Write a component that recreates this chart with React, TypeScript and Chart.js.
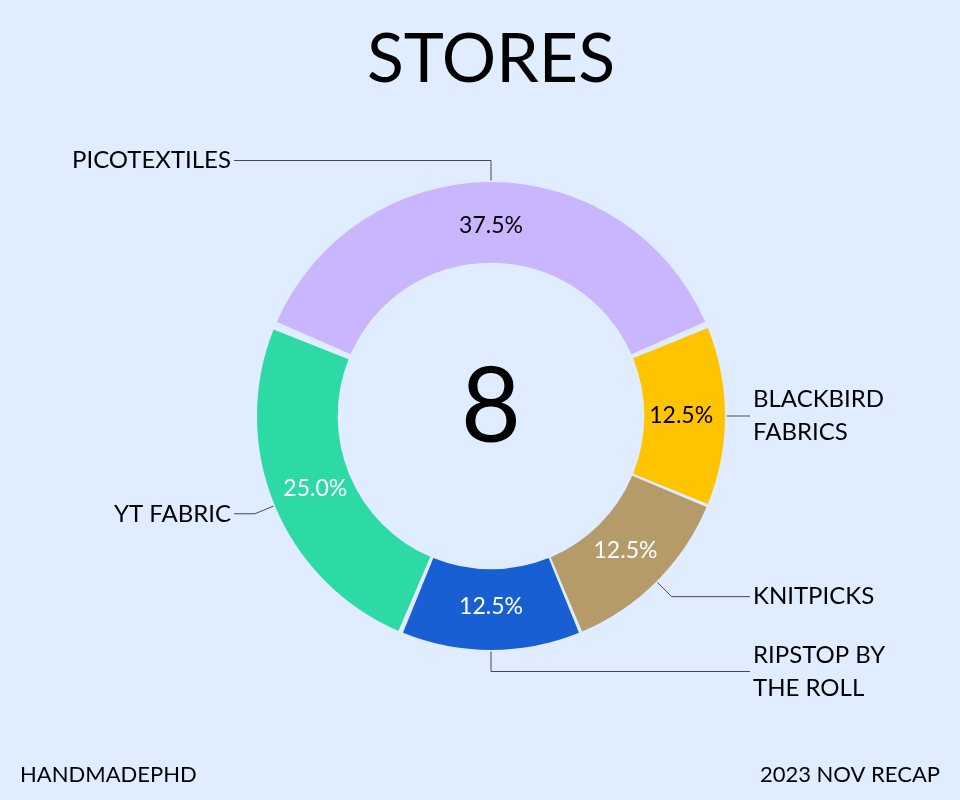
import React, { useEffect, useRef } from "react";
import { Chart, registerables } from "chart.js";

Chart.register(...registerables);

const TITLE = "STORES";
const CENTER_TEXT = "8";
const FOOTER_LEFT = "HANDMADEPHD";
const FOOTER_RIGHT = "2023 NOV RECAP";

const storeLabels: string[][] = [
  ["PICOTEXTILES"],
  ["BLACKBIRD", "FABRICS"],
  ["KNITPICKS"],
  ["RIPSTOP BY", "THE ROLL"],
  ["YT FABRIC"],
];
const storeCounts = [3, 1, 1, 1, 2];
const sliceColors = ["#c9b6fe", "#ffc400", "#b59b6a", "#175fd2", "#2dd9a5"];
const pctTextColors = ["#000000", "#000000", "#ffffff", "#ffffff", "#ffffff"];

const BG = "#e0ecff";
const FONT = "Lato, 'Noto Sans', sans-serif";

const decorPlugin = {
  id: "decor",
  beforeDraw(chart: any) {
    const { ctx, width, height } = chart;
    ctx.save();
    ctx.fillStyle = BG;
    ctx.fillRect(0, 0, width, height);
    ctx.restore();
  },
  afterDraw(chart: any) {
    const { ctx } = chart;
    const meta = chart.getDatasetMeta(0);
    const total = storeCounts.reduce((a, b) => a + b, 0);
    ctx.save();
    // title
    ctx.fillStyle = "#000";
    ctx.textAlign = "center";
    ctx.textBaseline = "middle";
    ctx.font = `68px ${FONT}`;
    const c0 = meta.data[0];
    ctx.fillText(TITLE, c0.x, 60);
    // center
    ctx.font = `104px ${FONT}`;
    ctx.fillText(CENTER_TEXT, c0.x, c0.y - 8);
    // footers
    ctx.font = `22px ${FONT}`;
    ctx.textAlign = "left";
    ctx.fillText(FOOTER_LEFT, 20, 775);
    ctx.textAlign = "right";
    ctx.fillText(FOOTER_RIGHT, 940, 775);

    meta.data.forEach((arc: any, i: number) => {
      const mid = (arc.startAngle + arc.endAngle) / 2;
      const cos = Math.cos(mid);
      const sin = Math.sin(mid);
      // percent label
      const rm = (arc.innerRadius + arc.outerRadius) / 2;
      ctx.font = `23px ${FONT}`;
      ctx.textAlign = "center";
      ctx.textBaseline = "middle";
      ctx.fillStyle = pctTextColors[i];
      const pct = ((storeCounts[i] / total) * 100).toFixed(1) + "%";
      ctx.fillText(pct, arc.x + cos * rm, arc.y + sin * rm);

      // leader line
      const ax = arc.x + cos * (arc.outerRadius + 5);
      const ay = arc.y + sin * (arc.outerRadius + 5);
      const bx = arc.x + cos * (arc.outerRadius + 25);
      const by = arc.y + sin * (arc.outerRadius + 25);
      const right = cos > -0.05 && !(sin < -0.9);
      const ex = right ? 750 : 234;
      ctx.strokeStyle = "#444a55";
      ctx.lineWidth = 1;
      ctx.beginPath();
      ctx.moveTo(ax, ay);
      ctx.lineTo(bx, by);
      ctx.lineTo(ex, by);
      ctx.stroke();

      // store label
      ctx.fillStyle = "#000";
      ctx.font = `24px ${FONT}`;
      ctx.textAlign = right ? "left" : "right";
      const lines = storeLabels[i];
      const lh = 33;
      const tx = right ? 753 : 231;
      lines.forEach((ln, k) => {
        const ty = by + (k - (lines.length - 1) / 2) * lh;
        ctx.fillText(ln, tx, ty);
      });
    });
    ctx.restore();
  },
};

export default function App() {
  const ref = useRef<HTMLCanvasElement>(null);
  useEffect(() => {
    document.body.style.margin = "0";
    document.body.style.background = BG;
    const chart = new Chart(ref.current as HTMLCanvasElement, {
      type: "doughnut",
      data: {
        labels: storeLabels.map((l) => l.join(" ")),
        datasets: [
          {
            data: storeCounts,
            backgroundColor: sliceColors,
            borderWidth: 0,
            spacing: 7,
          },
        ],
      },
      options: {
        responsive: false,
        animation: false,
        cutout: "65%",
        rotation: -67.5,
        layout: { padding: { left: 257, right: 235, top: 181, bottom: 149 } },
        plugins: {
          legend: { display: false },
          tooltip: { enabled: false },
        },
      },
      plugins: [decorPlugin],
    });
    return () => chart.destroy();
  }, []);
  return <canvas ref={ref} width={960} height={800} style={{ display: "block" }} />;
}
